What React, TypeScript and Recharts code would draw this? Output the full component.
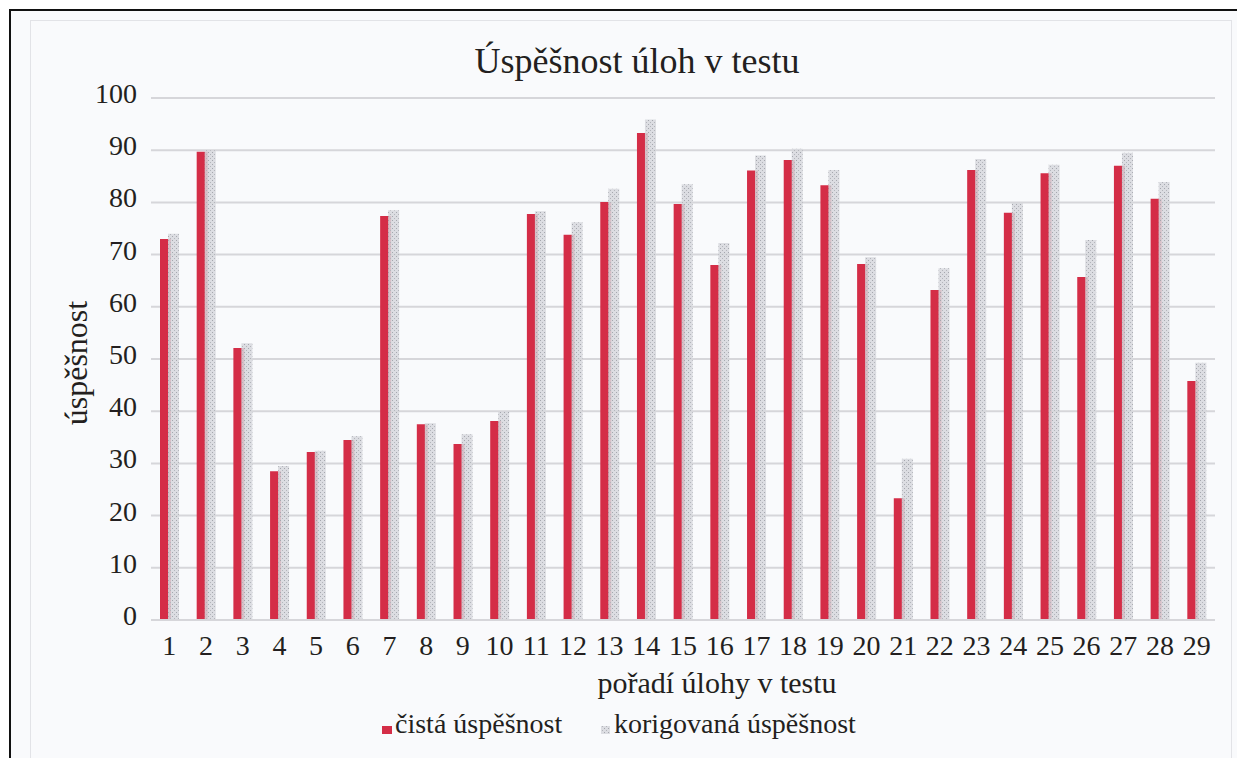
import { BarChart, Bar, XAxis, YAxis, CartesianGrid } from "recharts";

const ulohy = [
    "1", "2", "3", "4", "5", "6", "7", "8", "9", "10",
    "11", "12", "13", "14", "15", "16", "17", "18", "19", "20",
    "21", "22", "23", "24", "25", "26", "27", "28", "29",
];

const cistaUspesnost = [
    73, 89.7, 52.1, 28.5, 32.2, 34.5, 77.4, 37.5, 33.7, 38.1,
    77.8, 73.8, 80.1, 93.3, 79.7, 68, 86.1, 88.1, 83.3, 68.2,
    23.3, 63.2, 86.2, 78, 85.6, 65.7, 87, 80.7, 45.8,
];

const korigovanaUspesnost = [
    74, 90, 53, 29.5, 32.4, 35.2, 78.5, 37.7, 35.6, 40,
    78.3, 76.2, 82.6, 95.9, 83.5, 72.2, 89, 90.3, 86.2, 69.5,
    30.9, 67.4, 88.3, 79.9, 87.2, 72.8, 89.5, 83.9, 49.3,
];

const yTicks = [0, 10, 20, 30, 40, 50, 60, 70, 80, 90, 100];

const series = [
    { id: "cista", title: "čistá úspěšnost", fill: "#d42d47" },
    { id: "korigovana", title: "korigovaná úspěšnost", fill: "url(#korig-pattern)" },
];

const data = ulohy.map((u, i) => ({
    uloha: u,
    cista: cistaUspesnost[i],
    korigovana: korigovanaUspesnost[i],
}));

const FONT = "'Liberation Serif', 'DejaVu Serif', serif";
const TEXT = "#231f20";
const GRID = "#d6d6da";

export default function App() {
    return (
        <div style={{ position: "fixed", inset: 0, overflow: "hidden", background: "#fff", fontFamily: FONT }}>
            {/* frame */}
            <div
                style={{
                    position: "absolute",
                    left: 9,
                    top: 9,
                    right: -10,
                    bottom: -10,
                    borderTop: "2px solid #111",
                    borderLeft: "2px solid #111",
                    background: "#f9fafc",
                }}
            />
            <div
                style={{
                    position: "absolute",
                    left: 30,
                    top: 20,
                    width: 1200,
                    height: 800,
                    border: "1px solid #e2e3e7",
                }}
            />
            <div style={{ position: "absolute", left: 0, top: 0 }}>
                <BarChart
                    width={1237}
                    height={758}
                    data={data}
                    margin={{ top: 98, right: 22, left: 0, bottom: 98 }}
                    barGap={-3}
                    barCategoryGap="48%"
                >
                    <defs>
                        <pattern id="korig-pattern" width="4" height="4" patternUnits="userSpaceOnUse">
                            <rect width="4" height="4" fill="#d7d8dd" fillOpacity="0.85" />
                            <rect x="0" y="0" width="1" height="1" fill="#a5a7ae" />
                            <rect x="2" y="2" width="1" height="1" fill="#b3b5bb" />
                        </pattern>
                    </defs>
                    <CartesianGrid vertical={false} stroke={GRID} strokeWidth={2} />
                    <XAxis
                        dataKey="uloha"
                        height={40}
                        interval={0}
                        tickLine={false}
                        tickSize={0}
                        tickMargin={15}
                        axisLine={{ stroke: GRID, strokeWidth: 2 }}
                        tick={{ fontSize: 28, fontFamily: FONT, fill: TEXT }}
                    />
                    <YAxis
                        width={151}
                        domain={[0, 100]}
                        ticks={yTicks}
                        tickLine={false}
                        axisLine={false}
                        tickSize={0}
                        tickMargin={14}
                        tick={{ fontSize: 28, fontFamily: FONT, fill: TEXT, dy: -5 }}
                    />
                    {series.map((s) => (
                        <Bar
                            key={s.id}
                            dataKey={s.id}
                            name={s.title}
                            fill={s.fill}
                            barSize={11}
                            isAnimationActive={false}
                        />
                    ))}
                </BarChart>
            </div>
            {/* titles and legend */}
            <svg
                width={1237}
                height={758}
                style={{ position: "absolute", left: 0, top: 0, pointerEvents: "none", fontFamily: FONT }}
                fill={TEXT}
            >
                <text x={637} y={73} fontSize={36} textAnchor="middle">
                    Úspěšnost úloh v testu
                </text>
                <text x={87} y={363} fontSize={32} textAnchor="middle" transform="rotate(-90 87 363)">
                    úspěšnost
                </text>
                <text x={717} y={693} fontSize={30} textAnchor="middle">
                    pořadí úlohy v testu
                </text>
                <rect x={382} y={726} width={10} height={8} fill={series[0].fill} />
                <text x={395} y={733} fontSize={28}>
                    {series[0].title}
                </text>
                <rect x={601} y={726} width={9} height={8} fill={series[1].fill} />
                <text x={614} y={733} fontSize={28}>
                    {series[1].title}
                </text>
            </svg>
        </div>
    );
}
